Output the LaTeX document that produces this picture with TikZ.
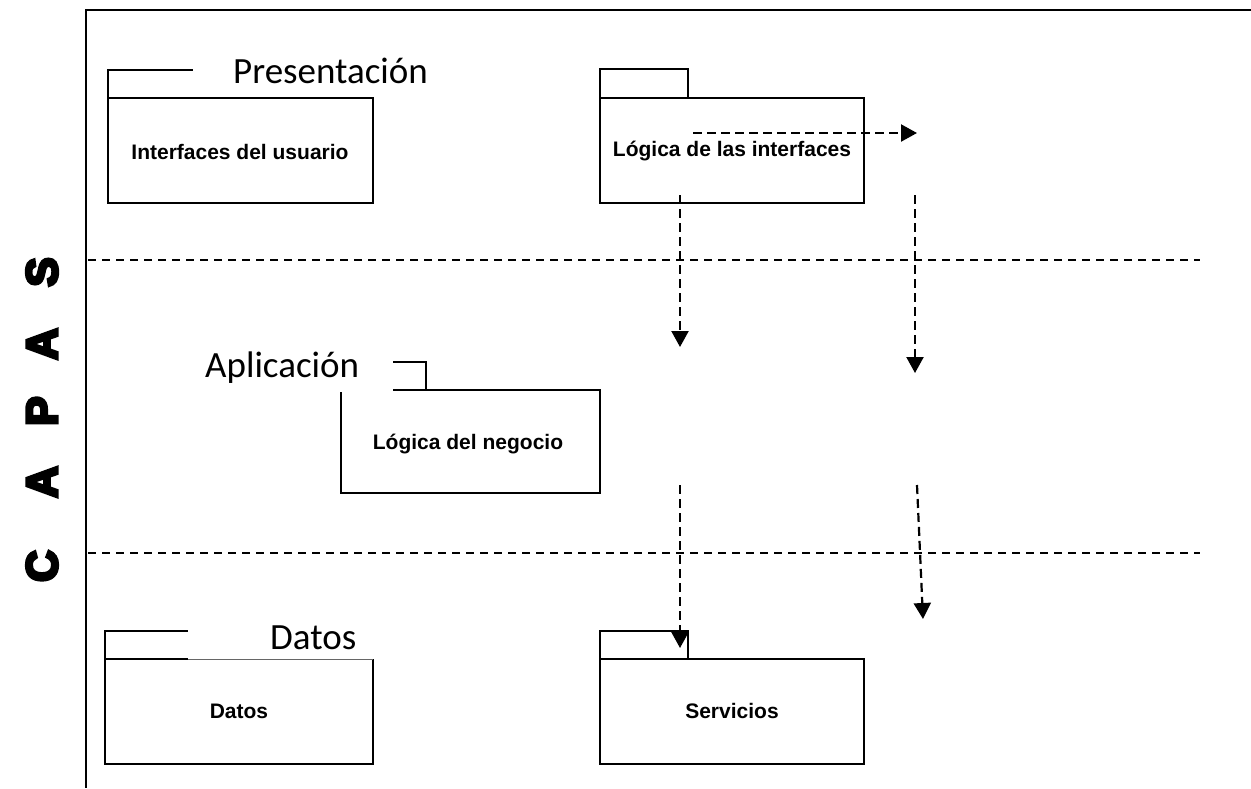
\documentclass[tikz,border=0pt]{standalone}
\usepackage{fontspec}
\setmainfont{Liberation Sans}
\newfontfamily\calib{Carlito}
\newfontfamily\capfont[FakeBold=7]{Liberation Sans Bold}
\usetikzlibrary{arrows.meta}
\begin{document}
\begin{tikzpicture}[x=1pt,y=-1pt,
  frame/.style={line width=2.6pt},
  box/.style={line width=2.2pt},
  thinbox/.style={line width=1pt, black!60},
  sep/.style={line width=2.2pt, dash pattern=on 7.5pt off 6.5pt},
  dep/.style={line width=2.2pt, dash pattern=on 9pt off 5pt, -{Triangle[length=16pt,width=17pt]}},
  lbl/.style={font=\fontsize{21}{24}\selectfont\bfseries, inner sep=0pt},
  layer/.style={font=\calib\fontsize{37}{42}\selectfont, anchor=base west, inner sep=0pt},
  capa/.style={font=\capfont\fontsize{44}{44}\selectfont, rotate=90, inner sep=0pt},
]
\useasboundingbox (0,0) rectangle (1251,788);

% frame
\draw[frame] (1251,10) -- (86,10) -- (86,788);

% separators
\draw[sep] (88,260) -- (1200,260);
\draw[sep] (88,553) -- (1200,553);

% CAPAS
\node[capa] (c1) at (42,566) {C};
\node[capa] (c2) at (42,482) {A};
\node[capa] (c3) at (42,411) {P};
\node[capa] (c4) at (42,344) {A};
\node[capa] (c5) at (42,272) {S};

% Presentacion layer
\node[layer] (tpres) at (233,83) {Presentación};
\draw[box] (108,98) rectangle (373,203);
\draw[box] (108,98) -- (108,70) -- (193,70);
\node[lbl] (iu) at (240,152) {Interfaces del usuario};

\draw[box] (600,98) rectangle (864,203);
\draw[box] (600,98) -- (600,69) -- (688,69) -- (688,98);
\node[lbl] (li) at (732,151) {Lógica de las interfaces};

% Aplicacion layer
\node[layer] (tapl) at (205,377) {Aplicación};
\draw[box] (393,362) -- (426,362) -- (426,390);
\draw[box] (393,390) -- (600,390) -- (600,493) -- (341,493) -- (341,392);
\node[lbl] (ln) at (468,444) {Lógica del negocio};

% Datos layer
\node[layer] (tdat) at (270,649) {Datos};
\draw[box] (188,659) -- (105,659) -- (105,764) -- (373,764) -- (373,659);
\draw[thinbox] (188,659) -- (373,659);
\draw[box] (105,659) -- (105,631) -- (188,631);
\node[lbl] (dd) at (239,711) {Datos};

\draw[box] (600,659) rectangle (864,764);
\draw[box] (600,659) -- (600,631) -- (688,631) -- (688,659);
\node[lbl] (sv) at (732,711) {Servicios};

% dependency arrows
\coordinate (h0) at (693,133);
\coordinate (h1) at (917,133);
\coordinate (a0) at (680,195);
\coordinate (a1) at (680,347);
\coordinate (b0) at (915,195);
\coordinate (b1) at (915,373);
\coordinate (d0) at (680,485);
\coordinate (d1) at (680,648);
\coordinate (e0) at (917,485);
\coordinate (e1) at (923,619);
\draw[dep] (h0) -- (h1);
\draw[dep] (a0) -- (a1);
\draw[dep] (b0) -- (b1);
\draw[dep] (d0) -- (d1);
\draw[dep] (e0) -- (e1);
\end{tikzpicture}
\end{document}
